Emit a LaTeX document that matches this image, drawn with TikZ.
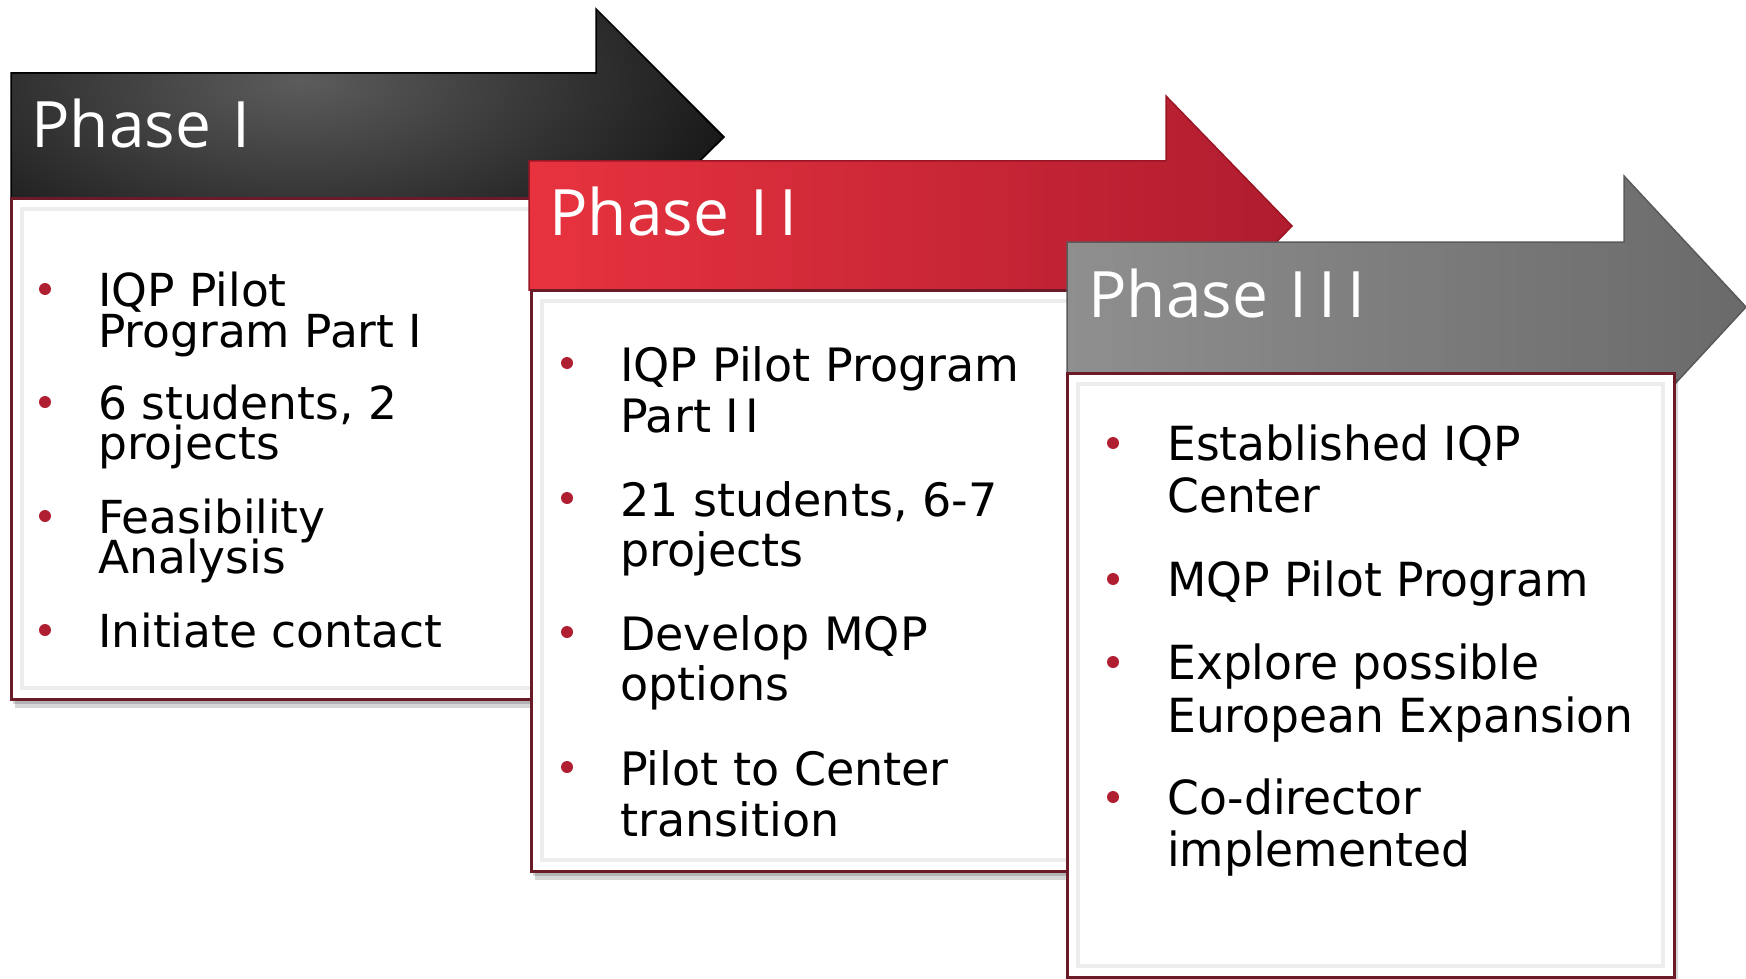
\documentclass[tikz,border=0pt]{standalone}
\usepackage{fontspec}
\setmainfont{DejaVu Sans}
\newfontfamily\headfont{Open Sans}
\newfontfamily\condfont[FakeStretch=0.97]{DejaVu Sans}
\definecolor{redL}{HTML}{E8333F}
\definecolor{redR}{HTML}{B01C2F}
\definecolor{redE}{HTML}{9A1626}
\definecolor{grayL}{HTML}{8F8F8F}
\definecolor{grayR}{HTML}{6A6A6A}
\definecolor{grayE}{HTML}{5A5A5A}
\definecolor{blkL}{HTML}{5C5C5C}
\definecolor{framec}{HTML}{6B1B27}
\definecolor{bulletred}{HTML}{B01E32}
\newcommand{\romsep}{\kern11pt}
\tikzset{
  arrowshape/.style={line width=1.5pt, line join=miter},
  phaseone/.style={arrowshape, draw=black, fill=black!96},
  phasetwo/.style={arrowshape, draw=redE, left color=redL, right color=redR},
  phasethree/.style={arrowshape, draw=grayE, left color=grayL, right color=grayR},
  glow/.style={inner color=blkL, outer color=black!96},
  boxframe/.style={draw=framec, line width=3pt, fill=white},
  bevel/.style={draw=black!7, line width=4pt},
  shadowbox/.style={fill=black, opacity=0.16},
  headtext/.style={text=white, font=\headfont\fontsize{64}{70}\selectfont, anchor=base west, inner sep=0pt},
  itemone/.style={anchor=base west, inner sep=0pt, font=\fontsize{45.5}{50}\selectfont},
  itemtwo/.style={anchor=base west, inner sep=0pt, font=\fontsize{46}{50}\selectfont},
  itemthree/.style={anchor=base west, inner sep=0pt, font=\condfont\fontsize{47}{50}\selectfont},
  bulletdot/.style={circle, fill=bulletred, minimum size=12pt, inner sep=0pt},
}
\begin{document}
\begin{tikzpicture}[x=1pt,y=-1pt]
\useasboundingbox (0,0) rectangle (1746,979);
\fill[white] (0,0) rectangle (1746,979);

% ---------- Phase I ----------
\path[phaseone] (11,73) -- (596,73) -- (596,9) -- (724,137) -- (596,264) -- (596,198) -- (11,198) -- cycle;
\begin{scope}
  \clip (12,74) -- (597,74) -- (597,11) -- (722,137) -- (597,262) -- (597,197) -- (12,197) -- cycle;
  \fill[glow] (300,80) ellipse (540 and 250);
\end{scope}
\fill[shadowbox] (15,204) rectangle (549,708);
\fill[shadowbox] (13,202) rectangle (547,704);
\path[boxframe] (11,198) rectangle (545,699);
\draw[bevel] (22,209) rectangle (534,688);
\node[headtext] (h1) at (31,148) {Phase \kern5pt I};

\node[bulletdot] (b1a) at (45,289) {};
\node[itemone] (t1a) at (98,306) {IQP Pilot};
\node[itemone] (t1b) at (98,347) {Program Part I};
\node[bulletdot] (b1b) at (45,402) {};
\node[itemone] (t1c) at (98,419) {6 students, 2};
\node[itemone] (t1d) at (98,459) {projects};
\node[bulletdot] (b1c) at (45,516) {};
\node[itemone] (t1e) at (98,533) {Feasibility};
\node[itemone] (t1f) at (98,573) {Analysis};
\node[bulletdot] (b1d) at (45,630) {};
\node[itemone] (t1g) at (98,647) {Initiate contact};

% ---------- Phase II ----------
\path[phasetwo] (529,161) -- (1166,161) -- (1166,96) -- (1292,226) -- (1166,356) -- (1166,290) -- (529,290) -- cycle;
\fill[shadowbox] (535,296) rectangle (1094,880);
\fill[shadowbox] (533,294) rectangle (1092,876);
\path[boxframe] (531,290) rectangle (1090,871);
\draw[bevel] (542,301) rectangle (1079,860);
\node[headtext] (h2) at (549,235) {Phase \kern5pt I\romsep I};

\node[bulletdot] (b2a) at (567,363) {};
\node[itemtwo] (t2a) at (620,381) {IQP Pilot Program};
\node[itemtwo] (t2b) at (620,432) {Part I\kern6pt I};
\node[bulletdot] (b2b) at (567,498) {};
\node[itemtwo] (t2c) at (620,516) {21 students, 6-7};
\node[itemtwo] (t2d) at (620,566) {projects};
\node[bulletdot] (b2c) at (567,632) {};
\node[itemtwo] (t2e) at (620,650) {Develop MQP};
\node[itemtwo] (t2f) at (620,700) {options};
\node[bulletdot] (b2d) at (567,767) {};
\node[itemtwo] (t2g) at (620,785) {Pilot to Center};
\node[itemtwo] (t2h) at (620,836) {transition};

% ---------- Phase III ----------
\path[phasethree] (1067,242) -- (1624,242) -- (1624,176) -- (1746,307) -- (1624,439) -- (1624,373) -- (1067,373) -- cycle;
\fill[shadowbox] (1071,379) rectangle (1678,985);
\path[boxframe] (1067,373) rectangle (1674,977);
\draw[bevel] (1078,384) rectangle (1663,966);
\node[headtext] (h3) at (1088,317) {Phase \kern5pt I\romsep I\romsep I};

\node[bulletdot] (b3a) at (1113,443) {};
\node[itemthree] (t3a) at (1167,460) {Established IQP};
\node[itemthree] (t3b) at (1167,512) {Center};
\node[bulletdot] (b3b) at (1113,579) {};
\node[itemthree] (t3c) at (1167,596) {MQP Pilot Program};
\node[bulletdot] (b3c) at (1113,662) {};
\node[itemthree] (t3d) at (1167,679) {Explore possible};
\node[itemthree] (t3e) at (1167,732) {European Expansion};
\node[bulletdot] (b3d) at (1113,797) {};
\node[itemthree] (t3f) at (1167,814) {Co-director};
\node[itemthree] (t3g) at (1167,866) {implemented};
\end{tikzpicture}
\end{document}
